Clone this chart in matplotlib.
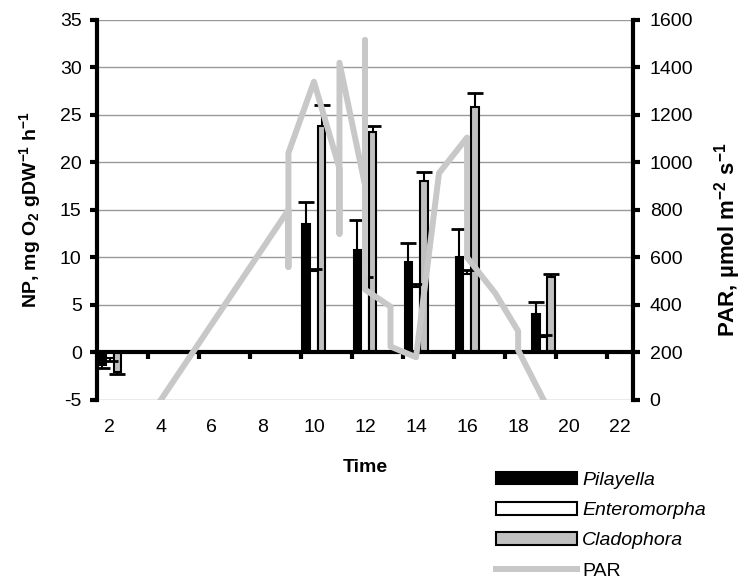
import numpy as np
import matplotlib
matplotlib.use('Agg')
import matplotlib.pyplot as plt
from matplotlib.patches import Patch
from matplotlib.lines import Line2D

plt.rcParams['font.family'] = ['Liberation Sans', 'DejaVu Sans']
plt.rcParams['mathtext.default'] = 'regular'
plt.rcParams['axes.unicode_minus'] = False

# net production per group (time of incubation)
hours = [2, 10, 12, 14, 16, 19]
pilayella = [-1.3, 13.5, 10.8, 9.5, 10.0, 4.0]
pilayella_err = [0.3, 2.3, 3.1, 2.0, 2.95, 1.35]
enteromorpha = [-0.6, 8.6, 7.7, 6.9, 8.3, 1.6]
enteromorpha_err = [0.3, 0.2, 0.2, 0.3, 0.35, 0.2]
cladophora = [-2.05, 23.8, 23.2, 18.0, 25.8, 7.9]
cladophora_err = [0.25, 2.3, 0.6, 1.0, 1.5, 0.35]

# PAR readings (several readings at some hours)
par_time = [4, 9, 9, 9, 10, 11, 11, 11, 12, 12, 12, 13, 13, 14, 14.9, 16, 16, 17.1, 18, 18, 19]
par = [0, 800, 560, 1040, 1340, 975, 700, 1420, 905, 1515, 465, 393, 225, 180,
       955, 1105, 600, 450, 290, 210, 0]

label_hours = [2, 4, 6, 8, 10, 12, 14, 16, 18, 20, 22]

PAR_COLOR = '#c8c8c8'
GRAY_BAR = '#c0c0c0'


def draw_err(ax, xpos, vals, errs):
    # one sided error bars, pointing away from zero
    vals = np.array(vals)
    ends = vals + np.sign(vals) * np.array(errs)
    ax.vlines(xpos, vals, ends, color='black', lw=1.5, zorder=3)
    ax.plot(xpos, ends, ls='none', marker='_', ms=11, mew=2, color='black', zorder=3)


fig = plt.figure(figsize=(7.42, 5.79), dpi=100)
ax = fig.add_axes([0.1307, 0.3092, 0.7224, 0.6563])

x = np.array(hours, dtype=float)
w = 0.3
ax.bar(x - w, pilayella, w, color='black', edgecolor='black', lw=1.5, zorder=2)
ax.bar(x, enteromorpha, w, color='white', edgecolor='black', lw=1.5, zorder=2)
ax.bar(x + w, cladophora, w, color=GRAY_BAR, edgecolor='black', lw=1.5, zorder=2)

draw_err(ax, x - w, pilayella, pilayella_err)
draw_err(ax, x, enteromorpha, enteromorpha_err)
draw_err(ax, x + w, cladophora, cladophora_err)

ax.set_xlim(1.5, 22.5)
ax.set_ylim(-5, 35)
ax.set_yticks(range(-5, 36, 5))
ax.set_xticks(np.arange(3.5, 22, 2))
ax.yaxis.grid(True, color='#999999', lw=1)
ax.set_axisbelow(True)

ax.spines['top'].set_visible(False)
ax.spines['right'].set_visible(False)
ax.spines['left'].set_linewidth(3)
ax.spines['bottom'].set_position(('data', 0))
ax.spines['bottom'].set_linewidth(3)
ax.tick_params(axis='x', direction='out', length=5, width=3, labelbottom=False)
ax.tick_params(axis='y', direction='out', length=5, width=3, pad=6, labelsize=14)
ax.set_ylabel('NP, mg O$_2$ gDW$^{-1}$ h$^{-1}$', fontsize=14, fontweight='bold')
ax.yaxis.set_label_coords(-0.10, 0.5)

sec = ax.secondary_xaxis('bottom')
sec.set_xticks(label_hours)
sec.tick_params(length=0, pad=14, labelsize=14)
sec.spines['bottom'].set_visible(False)
sec.set_xlabel('Time', fontsize=14, fontweight='bold', labelpad=16)

ax2 = ax.twinx()
ax2.plot(par_time, par, color=PAR_COLOR, lw=4.3, zorder=5)
ax2.set_ylim(0, 1600)
ax2.set_yticks(range(0, 1601, 200))
for s in ['top', 'bottom', 'left']:
    ax2.spines[s].set_visible(False)
ax2.spines['right'].set_linewidth(3)
ax2.tick_params(axis='y', direction='out', length=5, width=3, pad=7, labelsize=14)
ax2.set_ylabel('PAR, µmol m$^{-2}$ s$^{-1}$', fontsize=16, fontweight='bold')
ax2.yaxis.set_label_coords(1.147, 0.421)

handles = [Patch(facecolor='black', edgecolor='black', lw=1.5),
           Patch(facecolor='white', edgecolor='black', lw=1.5),
           Patch(facecolor=GRAY_BAR, edgecolor='black', lw=1.5),
           Line2D([], [], color=PAR_COLOR, lw=4.3)]
labels = ['Pilayella', 'Enteromorpha', 'Cladophora', 'PAR']
leg = fig.legend(handles, labels, loc='upper left', bbox_to_anchor=(0.668, 0.185),
                 frameon=False, fontsize=14, handlelength=4.2, handleheight=0.62,
                 labelspacing=0.67, handletextpad=0.25, borderpad=0, borderaxespad=0)
for t in leg.get_texts()[:3]:
    t.set_fontstyle('italic')

fig.savefig('out.png', dpi=100)
